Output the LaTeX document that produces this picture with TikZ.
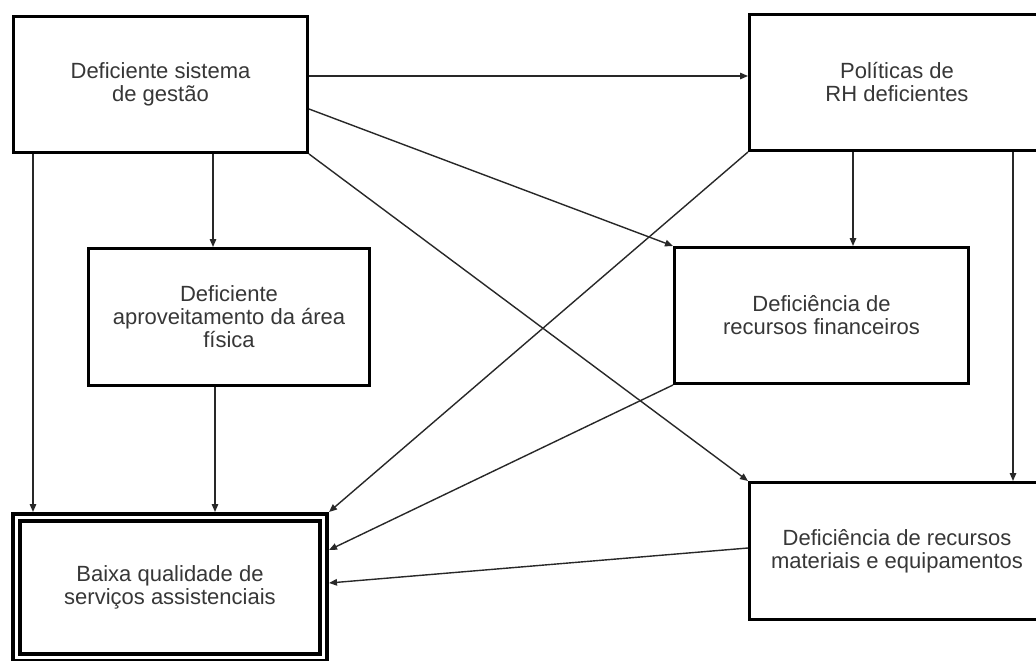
\documentclass[tikz,border=0pt]{standalone}
\usepackage{fontspec}
\setmainfont{Liberation Sans}
\usepackage{tikz}
\usetikzlibrary{arrows.meta}
\definecolor{textgray}{RGB}{55, 55, 55}
\definecolor{linegray}{RGB}{40, 40, 40}

\begin{document}
\begin{tikzpicture}[x=1pt, y=-1pt, >={Triangle[length=8pt, width=6.5pt]},
	every node/.style={font=\fontsize{22}{23}\selectfont, text=textgray, align=center},
	causebox/.style={draw=black, line width=3pt, minimum width=294pt, minimum height=136pt},
	effectbox/.style={draw=black, line width=4pt, double=white, double distance=3pt, outer sep=5.5pt, minimum width=307pt, minimum height=140pt},
	link/.style={->, linegray, line width=1.4pt}]
	
	% fixed frame, same as the page
	\path[use as bounding box, clip] (0, 0) rectangle (1036, 661);
	\fill[white] (0, 0) rectangle (1036, 661);
	
	% --- Causes ---
	\node[causebox] (gestao) at (160.5, 84.5) {Deficiente sistema\\de gestão};
	\node[causebox, minimum width=295pt] (politicas) at (897, 82.5) {Políticas de\\RH deficientes};
	\node[causebox, minimum width=281pt, minimum height=137pt] (aproveitamento) at (229, 317) {Deficiente\\aproveitamento da área\\física};
	\node[causebox] (recfin) at (821.5, 315.5) {Deficiência de\\recursos financeiros};
	\node[causebox, minimum width=295pt, minimum height=137pt] (recmat) at (897, 551) {Deficiência de recursos\\materiais e equipamentos};
	
	% --- Effect ---
	\node[effectbox] (baixa) at (170, 587.5) {Baixa qualidade de\\serviços assistenciais};
	
	% --- Links from the management system ---
	\draw[link] ([yshift=8.5pt]gestao.east) -- ([yshift=8.5pt]gestao.east -| politicas.west);
	\draw[link] ([yshift=-24.5pt]gestao.east) -- (recfin.north west);
	\draw[link] (gestao.south east) -- (recmat.north west);
	\draw[link] ([xshift=21pt]gestao.south west) -- ([xshift=21pt]gestao.south west |- baixa.north);
	\draw[link] ([xshift=-16pt]aproveitamento.north |- gestao.south) -- ([xshift=-16pt]aproveitamento.north);
	\draw[link] ([xshift=-14pt]aproveitamento.south) -- ([xshift=-14pt]aproveitamento.south |- baixa.north);
	
	% --- Links from HR policies ---
	\draw[link] (politicas.south west) -- (baixa.north east);
	\draw[link] ([xshift=31.5pt]recfin.north |- politicas.south) -- ([xshift=31.5pt]recfin.north);
	\draw[link] ([xshift=116pt]politicas.south) -- ([xshift=116pt]politicas.south |- recmat.north);
	
	% --- Links from resources ---
	\draw[link] (recfin.south west) -- ([yshift=37.5pt]baixa.east);
	\draw[link] ([yshift=3pt]recmat.west) -- ([yshift=4.5pt]baixa.east);
\end{tikzpicture}
\end{document}
